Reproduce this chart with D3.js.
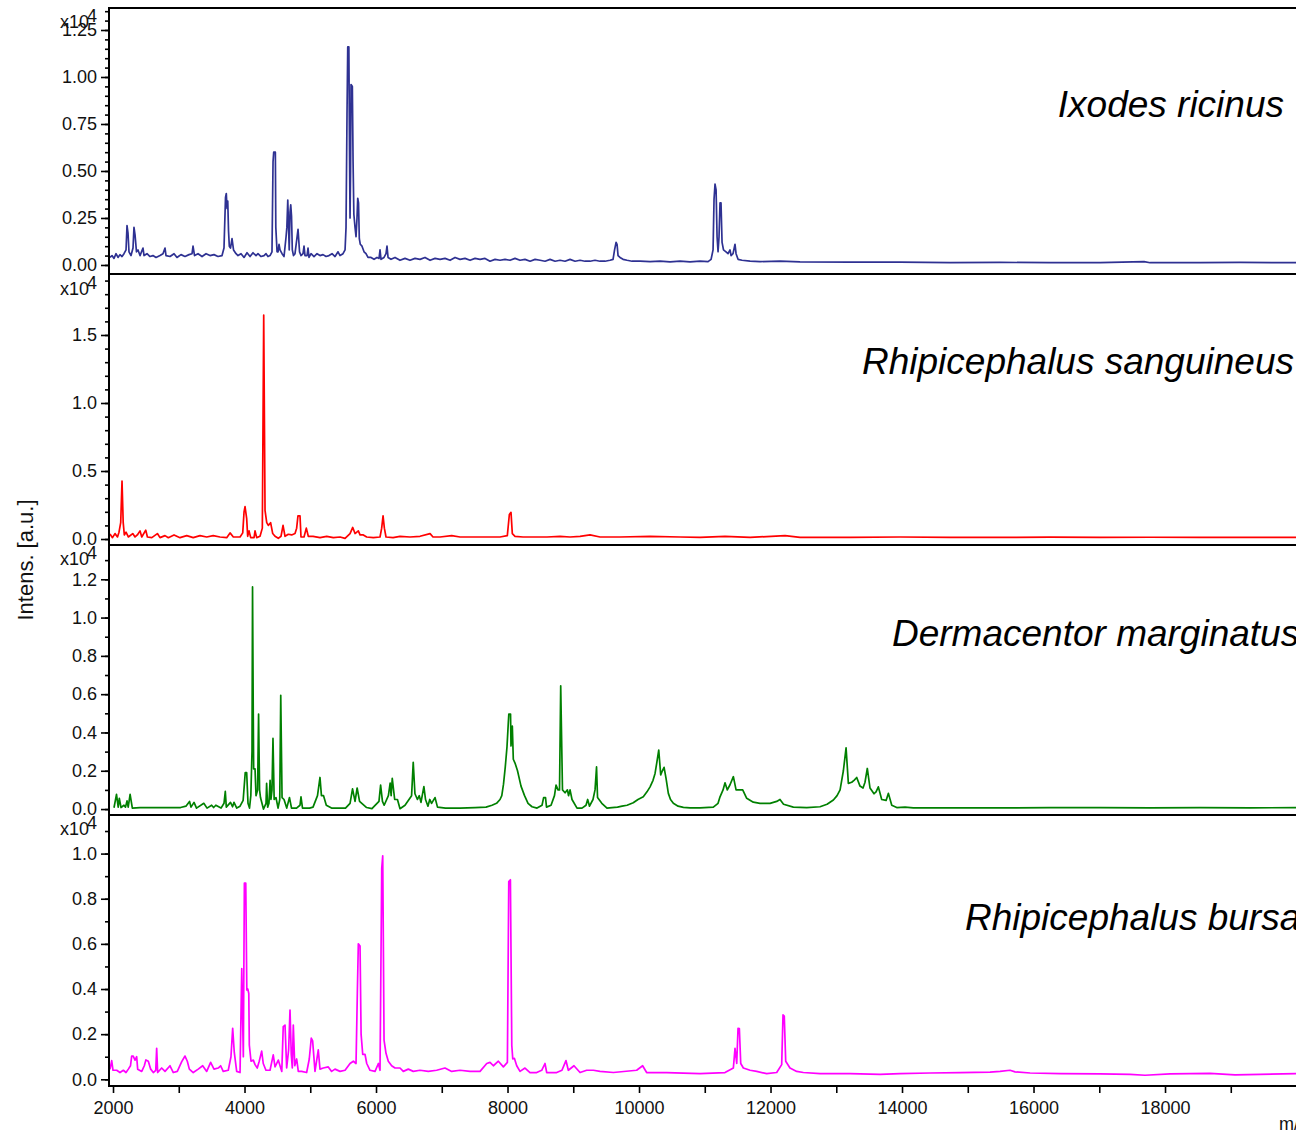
<!DOCTYPE html>
<html><head><meta charset="utf-8">
<script src="https://cdn.jsdelivr.net/npm/d3@7"></script>
<style>body{margin:0;background:#fff}svg{display:block;font-family:"Liberation Sans",Arial,sans-serif}</style>
</head><body><svg id="c" width="1296" height="1133"></svg>
<script>
// ---- data (m/z, intensity in x10^4 a.u.) ----
const species = ["Ixodes ricinus","Rhipicephalus sanguineus","Dermacentor marginatus","Rhipicephalus bursa"];
const colors = ["#2e3192","#ff0000","#008000","#ff00ff"];
const xTickValues = [2000,4000,6000,8000,10000,12000,14000,16000,18000];

const ixodes = [[1954,0.04],[1985,0.05],[2015,0.035],[2046,0.06],[2076,0.04],[2106,0.055],[2137,0.045],[2167,0.06],[2198,0.08],[2213,0.21],[2228,0.17],[2243,0.07],[2274,0.05],[2304,0.09],[2319,0.20],[2335,0.16],[2357,0.07],[2380,0.08],[2411,0.05],[2456,0.09],[2472,0.05],[2517,0.06],[2563,0.045],[2608,0.05],[2654,0.04],[2715,0.05],[2760,0.06],[2791,0.09],[2806,0.05],[2867,0.045],[2928,0.06],[2973,0.04],[3034,0.055],[3095,0.045],[3156,0.055],[3202,0.06],[3217,0.10],[3240,0.05],[3293,0.06],[3354,0.045],[3415,0.06],[3475,0.05],[3536,0.055],[3597,0.045],[3658,0.05],[3688,0.09],[3711,0.36],[3723,0.38],[3734,0.30],[3745,0.34],[3757,0.18],[3769,0.10],[3787,0.09],[3810,0.14],[3833,0.08],[3871,0.06],[3901,0.05],[3947,0.06],[3993,0.04],[4038,0.065],[4084,0.045],[4129,0.065],[4175,0.05],[4205,0.06],[4251,0.045],[4297,0.05],[4327,0.06],[4357,0.045],[4388,0.05],[4418,0.07],[4434,0.55],[4444,0.60],[4469,0.60],[4476,0.20],[4495,0.07],[4510,0.07],[4525,0.11],[4540,0.08],[4571,0.06],[4601,0.045],[4632,0.15],[4644,0.20],[4658,0.345],[4670,0.20],[4680,0.08],[4692,0.28],[4703,0.32],[4715,0.26],[4727,0.08],[4745,0.05],[4768,0.06],[4814,0.19],[4837,0.07],[4860,0.05],[4890,0.06],[4905,0.10],[4920,0.05],[4951,0.05],[4966,0.09],[4981,0.04],[5012,0.06],[5057,0.045],[5103,0.06],[5148,0.05],[5194,0.055],[5240,0.045],[5285,0.05],[5331,0.06],[5377,0.045],[5422,0.07],[5453,0.05],[5498,0.06],[5529,0.08],[5544,0.20],[5559,0.80],[5570,1.16],[5587,1.16],[5597,0.60],[5605,0.25],[5613,0.50],[5620,0.96],[5640,0.95],[5651,0.55],[5663,0.27],[5681,0.20],[5696,0.15],[5711,0.25],[5722,0.355],[5734,0.33],[5746,0.14],[5761,0.11],[5787,0.10],[5818,0.07],[5848,0.06],[5878,0.04],[5924,0.04],[5970,0.03],[6015,0.04],[6046,0.035],[6061,0.08],[6076,0.03],[6122,0.04],[6152,0.06],[6167,0.10],[6183,0.04],[6228,0.03],[6289,0.04],[6365,0.025],[6441,0.035],[6517,0.025],[6593,0.035],[6669,0.03],[6745,0.04],[6822,0.025],[6898,0.035],[6974,0.03],[7050,0.035],[7126,0.025],[7202,0.04],[7278,0.03],[7354,0.035],[7430,0.025],[7506,0.035],[7582,0.03],[7658,0.035],[7734,0.02],[7810,0.03],[7886,0.025],[7962,0.03],[8038,0.025],[8114,0.035],[8190,0.025],[8266,0.03],[8343,0.02],[8419,0.03],[8495,0.025],[8571,0.02],[8647,0.03],[8723,0.02],[8799,0.025],[8875,0.02],[8951,0.03],[9027,0.02],[9103,0.025],[9179,0.02],[9255,0.02],[9331,0.025],[9407,0.02],[9483,0.02],[9559,0.025],[9605,0.03],[9628,0.08],[9651,0.12],[9666,0.11],[9681,0.05],[9711,0.04],[9757,0.03],[9818,0.025],[9894,0.02],[10016,0.02],[10168,0.018],[10320,0.02],[10472,0.017],[10624,0.02],[10776,0.017],[10928,0.02],[11050,0.018],[11096,0.03],[11126,0.08],[11141,0.35],[11156,0.43],[11172,0.40],[11187,0.15],[11202,0.07],[11217,0.15],[11232,0.33],[11247,0.33],[11263,0.12],[11285,0.08],[11323,0.07],[11354,0.06],[11384,0.08],[11400,0.05],[11430,0.06],[11460,0.11],[11476,0.06],[11506,0.03],[11567,0.025],[11689,0.02],[11841,0.018],[12145,0.02],[12449,0.016],[13210,0.015],[13970,0.015],[14731,0.013],[15491,0.014],[16252,0.012],[17012,0.013],[17681,0.018],[17773,0.012],[18533,0.012],[19141,0.014],[19993,0.012]];

const sanguineus = [[1954,0.037],[1992,0.01],[2030,0.04],[2068,0.015],[2091,0.05],[2117,0.12],[2137,0.426],[2155,0.12],[2172,0.03],[2198,0.05],[2233,0.015],[2300,0.04],[2335,0.015],[2370,0.03],[2411,0.06],[2437,0.015],[2498,0.065],[2523,0.015],[2590,0.01],[2675,0.04],[2715,0.01],[2791,0.025],[2841,0.01],[2928,0.03],[3019,0.01],[3121,0.025],[3220,0.01],[3323,0.025],[3425,0.015],[3524,0.025],[3627,0.015],[3729,0.01],[3780,0.045],[3830,0.015],[3932,0.015],[3973,0.045],[3993,0.20],[4008,0.238],[4033,0.15],[4048,0.02],[4069,0.06],[4094,0.01],[4145,0.01],[4160,0.06],[4185,0.01],[4236,0.02],[4271,0.08],[4292,1.647],[4312,0.21],[4338,0.12],[4362,0.10],[4397,0.12],[4429,0.04],[4464,0.02],[4514,0.005],[4555,0.02],[4586,0.10],[4616,0.02],[4666,0.035],[4717,0.03],[4768,0.04],[4793,0.08],[4813,0.17],[4844,0.17],[4859,0.015],[4905,0.015],[4940,0.08],[4970,0.02],[5042,0.02],[5148,0.01],[5250,0.02],[5351,0.01],[5453,0.015],[5529,0.005],[5605,0.04],[5646,0.085],[5681,0.04],[5731,0.06],[5757,0.03],[5807,0.03],[5858,0.015],[5959,0.01],[6061,0.015],[6086,0.08],[6107,0.17],[6127,0.08],[6152,0.015],[6259,0.01],[6365,0.02],[6517,0.015],[6669,0.02],[6822,0.04],[6867,0.015],[6974,0.015],[7151,0.025],[7278,0.015],[7476,0.015],[7684,0.015],[7886,0.015],[7997,0.025],[8028,0.18],[8053,0.196],[8073,0.04],[8114,0.02],[8236,0.015],[8388,0.015],[8601,0.015],[8799,0.02],[8951,0.015],[9103,0.02],[9255,0.03],[9407,0.015],[9711,0.015],[10168,0.02],[10624,0.015],[10928,0.012],[11308,0.02],[11689,0.012],[12221,0.025],[12449,0.012],[13210,0.012],[13970,0.015],[14731,0.012],[15491,0.012],[16252,0.014],[17012,0.012],[17773,0.013],[18533,0.012],[19993,0.012]];

const marginatus = [[2015,0.007],[2053,0.077],[2079,0.01],[2096,0.056],[2122,0.008],[2167,0.02],[2190,0.01],[2213,0.043],[2231,0.01],[2260,0.077],[2294,0.005],[2411,0.007],[2684,0.008],[2867,0.007],[3028,0.008],[3109,0.015],[3164,0.04],[3186,0.01],[3232,0.035],[3270,0.005],[3381,0.03],[3430,0.005],[3500,0.02],[3530,0.008],[3564,0.02],[3643,0.005],[3688,0.03],[3708,0.092],[3723,0.01],[3787,0.035],[3818,0.012],[3840,0.035],[3882,0.005],[3932,0.015],[3979,0.045],[4011,0.19],[4033,0.19],[4053,0.03],[4076,0.005],[4096,0.07],[4114,0.3],[4122,1.16],[4133,0.5],[4139,0.21],[4160,0.21],[4175,0.07],[4199,0.1],[4214,0.496],[4229,0.1],[4243,0.06],[4288,0.0],[4327,0.03],[4336,0.134],[4352,0.01],[4372,0.03],[4389,0.15],[4402,0.05],[4418,0.1],[4433,0.369],[4451,0.05],[4479,0.06],[4510,0.005],[4536,0.05],[4551,0.594],[4571,0.06],[4601,0.05],[4642,0.005],[4684,0.06],[4715,0.005],[4791,0.005],[4844,0.02],[4859,0.064],[4882,0.005],[4989,0.005],[5042,0.01],[5110,0.07],[5148,0.165],[5170,0.07],[5202,0.07],[5244,0.02],[5323,0.005],[5536,0.005],[5605,0.03],[5643,0.105],[5681,0.04],[5713,0.11],[5750,0.04],[5857,0.008],[5938,0.002],[6045,0.04],[6070,0.125],[6098,0.04],[6124,0.02],[6188,0.07],[6215,0.135],[6230,0.07],[6247,0.16],[6284,0.05],[6326,0.05],[6365,0.002],[6441,0.02],[6541,0.07],[6566,0.244],[6592,0.08],[6630,0.05],[6658,0.07],[6684,0.035],[6728,0.117],[6753,0.05],[6790,0.015],[6817,0.05],[6845,0.03],[6897,0.06],[6935,0.01],[7057,0.005],[7278,0.005],[7506,0.008],[7673,0.01],[7764,0.02],[7833,0.03],[7886,0.05],[7913,0.07],[7939,0.13],[7966,0.22],[7992,0.325],[8012,0.45],[8020,0.496],[8046,0.496],[8053,0.33],[8073,0.433],[8088,0.26],[8114,0.24],[8152,0.2],[8205,0.12],[8259,0.07],[8312,0.03],[8373,0.012],[8449,0.005],[8525,0.02],[8549,0.06],[8578,0.06],[8593,0.01],[8662,0.02],[8714,0.07],[8738,0.125],[8768,0.1],[8791,0.1],[8809,0.644],[8836,0.1],[8875,0.085],[8911,0.1],[8928,0.07],[8951,0.1],[8981,0.05],[9057,0.005],[9133,0.005],[9194,0.02],[9219,0.05],[9247,0.015],[9300,0.05],[9331,0.1],[9354,0.22],[9369,0.06],[9434,0.03],[9513,0.005],[9590,0.008],[9673,0.01],[9742,0.015],[9818,0.02],[9912,0.033],[9984,0.05],[10065,0.064],[10121,0.09],[10168,0.116],[10213,0.15],[10244,0.186],[10274,0.25],[10300,0.308],[10330,0.178],[10355,0.2],[10381,0.218],[10411,0.16],[10446,0.082],[10479,0.05],[10522,0.03],[10594,0.015],[10675,0.009],[10776,0.006],[10928,0.006],[11130,0.01],[11202,0.03],[11232,0.064],[11278,0.1],[11308,0.137],[11343,0.1],[11384,0.127],[11435,0.169],[11476,0.1],[11536,0.1],[11577,0.1],[11638,0.056],[11738,0.036],[11840,0.03],[11993,0.03],[12094,0.04],[12144,0.05],[12198,0.025],[12347,0.01],[12551,0.008],[12753,0.012],[12860,0.025],[12956,0.047],[13012,0.07],[13058,0.1],[13108,0.2],[13149,0.32],[13184,0.134],[13235,0.14],[13270,0.15],[13311,0.165],[13361,0.12],[13407,0.11],[13437,0.14],[13472,0.212],[13513,0.11],[13574,0.08],[13605,0.09],[13640,0.116],[13691,0.05],[13758,0.045],[13793,0.082],[13844,0.02],[13920,0.008],[14046,0.01],[14172,0.006],[14578,0.006],[15491,0.006],[16252,0.008],[17012,0.007],[17773,0.006],[18533,0.008],[19294,0.006],[19993,0.008]];

const bursa = [[1954,0.044],[1980,0.083],[2000,0.04],[2056,0.04],[2106,0.03],[2157,0.04],[2198,0.03],[2233,0.045],[2266,0.06],[2284,0.103],[2307,0.103],[2335,0.085],[2360,0.1],[2375,0.045],[2437,0.035],[2476,0.06],[2500,0.086],[2537,0.08],[2573,0.045],[2613,0.03],[2650,0.04],[2664,0.137],[2679,0.03],[2740,0.05],[2791,0.035],[2867,0.06],[2917,0.03],[2978,0.035],[3045,0.078],[3095,0.103],[3130,0.08],[3161,0.045],[3220,0.03],[3296,0.045],[3364,0.06],[3425,0.035],[3485,0.075],[3536,0.045],[3600,0.05],[3637,0.06],[3676,0.035],[3753,0.04],[3794,0.1],[3820,0.226],[3844,0.12],[3881,0.035],[3932,0.03],[3958,0.49],[3982,0.1],[3998,0.869],[4019,0.869],[4035,0.396],[4050,0.40],[4065,0.38],[4073,0.152],[4099,0.08],[4134,0.085],[4160,0.065],[4194,0.05],[4224,0.08],[4261,0.125],[4285,0.07],[4326,0.04],[4388,0.04],[4437,0.108],[4464,0.055],[4514,0.085],[4540,0.06],[4567,0.035],[4589,0.233],[4616,0.24],[4641,0.05],[4671,0.13],[4692,0.307],[4711,0.11],[4727,0.05],[4742,0.24],[4764,0.06],[4793,0.09],[4818,0.035],[4869,0.035],[4945,0.03],[4985,0.09],[5015,0.182],[5036,0.17],[5072,0.035],[5122,0.13],[5148,0.045],[5198,0.05],[5274,0.055],[5325,0.035],[5376,0.045],[5452,0.035],[5529,0.04],[5605,0.07],[5655,0.08],[5696,0.07],[5716,0.381],[5731,0.6],[5757,0.59],[5773,0.2],[5798,0.11],[5833,0.11],[5859,0.07],[5909,0.04],[5985,0.035],[6036,0.07],[6061,0.04],[6087,0.935],[6102,0.99],[6122,0.174],[6152,0.115],[6187,0.08],[6238,0.06],[6289,0.05],[6365,0.05],[6415,0.035],[6491,0.045],[6567,0.035],[6669,0.04],[6795,0.035],[6922,0.04],[7049,0.05],[7151,0.035],[7278,0.04],[7430,0.035],[7582,0.035],[7684,0.07],[7734,0.075],[7785,0.06],[7861,0.08],[7937,0.055],[7998,0.075],[8019,0.876],[8044,0.884],[8065,0.15],[8080,0.09],[8104,0.093],[8140,0.06],[8190,0.035],[8266,0.05],[8342,0.03],[8444,0.03],[8520,0.04],[8570,0.07],[8596,0.03],[8748,0.03],[8828,0.04],[8889,0.083],[8925,0.04],[9011,0.06],[9103,0.03],[9204,0.04],[9306,0.04],[9407,0.035],[9610,0.03],[9964,0.04],[10055,0.06],[10116,0.03],[10420,0.03],[10928,0.025],[11308,0.03],[11435,0.05],[11460,0.137],[11486,0.07],[11506,0.226],[11526,0.225],[11547,0.07],[11587,0.05],[11689,0.04],[11790,0.035],[11942,0.025],[12094,0.03],[12170,0.065],[12190,0.285],[12209,0.28],[12231,0.08],[12296,0.05],[12398,0.035],[12499,0.03],[12753,0.025],[13210,0.025],[13667,0.022],[13970,0.025],[14427,0.028],[14883,0.03],[15339,0.032],[15491,0.035],[15643,0.04],[15719,0.033],[15948,0.028],[16404,0.025],[17012,0.024],[17468,0.022],[17696,0.018],[18076,0.024],[18685,0.026],[19065,0.02],[19446,0.022],[19993,0.025]];

const spectra = [ixodes, sanguineus, marginatus, bursa];
const yMajorTicks = [[0,0.25,0.5,0.75,1,1.25],[0,0.5,1,1.5],[0,0.2,0.4,0.6,0.8,1,1.2],[0,0.2,0.4,0.6,0.8,1]];
const yTickFormats = [".2f",".1f",".1f",".1f"];
const yMinorStep = [0.05,0.1,0.1,0.1];
const yMaxTick = [1.35,1.9,1.3,1.1];

// ---- layout ----
const panels = [
  {top:8, bottom:274, domain:[-0.048,1.367]},
  {top:275, bottom:545, domain:[-0.044,1.941]},
  {top:545, bottom:815, domain:[-0.031,1.379]},
  {top:815, bottom:1086, domain:[-0.0297,1.171]}
];
const left = 109, right = 1296;
const labelPos = [{x:1284,y:117,anchor:"end"},{x:862,y:374,anchor:"start"},{x:892,y:646,anchor:"start"},{x:965,y:930,anchor:"start"}];

const svg = d3.select("#c");
const x = d3.scaleLinear().domain([1939,19992]).range([left,right]);

svg.append("defs").selectAll("clipPath").data(panels).join("clipPath")
  .attr("id",(d,i)=>"clip"+i).append("rect")
  .attr("x",left).attr("y",d=>d.top).attr("width",right-left).attr("height",d=>d.bottom-d.top);

panels.forEach((p,i)=>{
  const y = d3.scaleLinear().domain(p.domain).range([p.bottom,p.top]);
  const g = svg.append("g");
  const minor = d3.range(0, yMaxTick[i]+1e-6, yMinorStep[i]);
  const ax2 = g.append("g").attr("transform",`translate(${left},0)`)
    .call(d3.axisLeft(y).tickValues(minor).tickSize(4).tickFormat(""));
  ax2.select(".domain").remove();
  ax2.selectAll("line").attr("stroke","#000").attr("stroke-width",1.6);
  const ax = g.append("g").attr("transform",`translate(${left},0)`)
    .call(d3.axisLeft(y).tickValues(yMajorTicks[i]).tickSize(8).tickPadding(4).tickFormat(d3.format(yTickFormats[i])));
  ax.select(".domain").remove();
  ax.selectAll("line").attr("stroke","#000").attr("stroke-width",1.6);
  ax.selectAll("text").attr("font-size",18).attr("fill","#111").attr("font-family","Liberation Sans, Arial, sans-serif");
  g.append("path").datum(spectra[i])
    .attr("clip-path",`url(#clip${i})`)
    .attr("fill","none").attr("stroke",colors[i]).attr("stroke-width",1.7).attr("stroke-linejoin","round")
    .attr("d",d3.line().x(d=>x(d[0])).y(d=>y(d[1])));
  g.append("line").attr("x1",left-1).attr("x2",right).attr("y1",p.bottom).attr("y2",p.bottom)
    .attr("stroke","#000").attr("stroke-width",2);
  g.append("text").attr("x",60).attr("y",p.top+20).attr("font-size",18).attr("fill","#111").text("x10");
  g.append("text").attr("x",87).attr("y",p.top+14).attr("font-size",18).attr("fill","#111").text("4");
  g.append("text").attr("x",labelPos[i].x).attr("y",labelPos[i].y).attr("text-anchor",labelPos[i].anchor)
    .attr("font-size",37).attr("font-style","italic").attr("fill","#000").text(species[i]);
});

svg.append("line").attr("x1",left-1).attr("x2",right).attr("y1",8).attr("y2",8).attr("stroke","#000").attr("stroke-width",2);
svg.append("line").attr("x1",left).attr("x2",left).attr("y1",7).attr("y2",1087).attr("stroke","#000").attr("stroke-width",2);

const xa = svg.append("g").attr("transform","translate(0,1087)")
  .call(d3.axisBottom(x).tickValues(d3.range(2000,20000,1000)).tickSize(6).tickPadding(8)
    .tickFormat(d=> xTickValues.includes(d) ? d3.format("d")(d) : ""));
xa.select(".domain").remove();
xa.selectAll("line").attr("stroke","#000").attr("stroke-width",1.6);
xa.selectAll("text").attr("font-size",18).attr("fill","#111");

svg.append("text").attr("x",1279).attr("y",1130).attr("font-size",18).attr("fill","#111").text("m/z");
svg.append("text").attr("transform","translate(33,560) rotate(-90)").attr("text-anchor","middle")
  .attr("font-size",22).attr("fill","#111").text("Intens. [a.u.]");
</script></body></html>
